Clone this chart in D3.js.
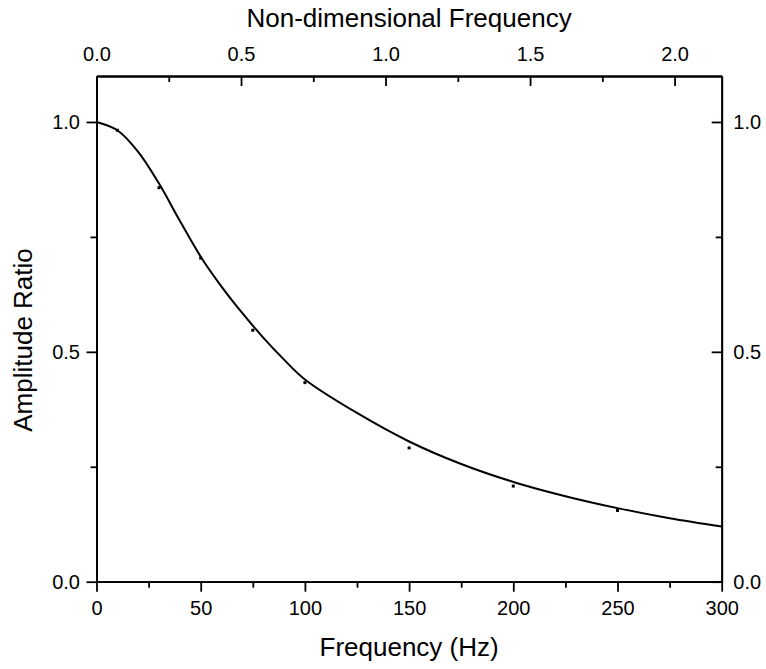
<!DOCTYPE html>
<html>
  <head>
    <title>Amplitude Ratio</title>
    <script src="https://cdn.jsdelivr.net/npm/d3@7/dist/d3.min.js"></script>
    <style>
      body { margin: 0; background: #fff; }
      text { font-family: Arial, "Liberation Sans", sans-serif; fill: #000; }
    </style>
  </head>
  <body>
    <script>
      // measured points
      var freq = [10, 30, 50, 75, 100, 150, 200, 250];
      var ratio = [0.982, 0.857, 0.704, 0.547, 0.433, 0.291, 0.208, 0.155];

      // fitted curve
      var fitFreq = [0, 10, 20, 30, 40, 50, 60, 70, 80, 90, 100, 125, 150, 175, 200, 225, 250, 275, 300];
      var fitRatio = [1.000, 0.982, 0.935, 0.866, 0.785, 0.707, 0.642, 0.584, 0.531, 0.483, 0.440, 0.367, 0.305, 0.256, 0.217, 0.186, 0.160, 0.138, 0.120];

      var xTicks = [0, 50, 100, 150, 200, 250, 300];
      var xMinor = [25, 75, 125, 175, 225, 275];
      var topTicks = [0.0, 0.5, 1.0, 1.5, 2.0];
      var topMinor = [0.25, 0.75, 1.25, 1.75];
      var topMax = 2.163;
      var yTicks = [0.0, 0.5, 1.0];
      var yMinor = [0.25, 0.75];

      var W = 766, H = 669;
      var pLeft = 96.5, pRight = 721.7, pTop = 76, pBottom = 581.7;

      var svg = d3.select("body").append("svg")
                  .attr("width", W)
                  .attr("height", H);

      var x = d3.scaleLinear().domain([0, 300]).range([pLeft, pRight]);
      var xTop = d3.scaleLinear().domain([0, topMax]).range([pLeft, pRight]);
      var y = d3.scaleLinear().domain([0, 1.1]).range([pBottom, pTop]);

      var fmt = d3.format(".1f");

      function styleAxis(g) {
        g.attr("font-size", null).attr("font-family", null);
        g.selectAll("path, line").attr("stroke", "#000").attr("stroke-width", 1.8);
        g.selectAll("text").style("font-size", "20px").attr("fill", "#000");
      }

      // bottom
      svg.append("g").attr("transform", "translate(0," + pBottom + ")")
         .call(d3.axisBottom(x).tickValues(xTicks).tickFormat(d3.format("d"))
                 .tickSize(10).tickSizeOuter(0).tickPadding(9))
         .call(styleAxis);
      svg.append("g").attr("transform", "translate(0," + pBottom + ")")
         .call(d3.axisBottom(x).tickValues(xMinor).tickFormat("").tickSize(6).tickSizeOuter(0))
         .call(styleAxis);

      // top (ticks inward)
      svg.append("g").attr("transform", "translate(0," + pTop + ")")
         .call(d3.axisTop(xTop).tickValues(topTicks).tickFormat(fmt)
                 .tickSizeInner(-10).tickSizeOuter(0).tickPadding(15))
         .call(styleAxis);
      svg.append("g").attr("transform", "translate(0," + pTop + ")")
         .call(d3.axisTop(xTop).tickValues(topMinor).tickFormat("")
                 .tickSizeInner(-6).tickSizeOuter(0))
         .call(styleAxis);

      // left
      svg.append("g").attr("transform", "translate(" + pLeft + ",0)")
         .call(d3.axisLeft(y).tickValues(yTicks).tickFormat(fmt)
                 .tickSize(10).tickSizeOuter(0).tickPadding(6.5))
         .call(styleAxis);
      svg.append("g").attr("transform", "translate(" + pLeft + ",0)")
         .call(d3.axisLeft(y).tickValues(yMinor).tickFormat("").tickSize(6).tickSizeOuter(0))
         .call(styleAxis);

      // right (ticks inward)
      svg.append("g").attr("transform", "translate(" + pRight + ",0)")
         .call(d3.axisRight(y).tickValues(yTicks).tickFormat(fmt)
                 .tickSizeInner(-10).tickSizeOuter(0).tickPadding(11.6))
         .call(styleAxis);
      svg.append("g").attr("transform", "translate(" + pRight + ",0)")
         .call(d3.axisRight(y).tickValues(yMinor).tickFormat("")
                 .tickSizeInner(-6).tickSizeOuter(0))
         .call(styleAxis);

      // fitted curve
      var fit = fitFreq.map(function(f, i){ return {f: f, v: fitRatio[i]}; });
      var line = d3.line()
                   .x(function(d){ return x(d.f); })
                   .y(function(d){ return y(d.v); })
                   .curve(d3.curveCatmullRom.alpha(0.5));
      svg.append("path").datum(fit)
         .attr("d", line)
         .attr("fill", "none")
         .attr("stroke", "#000")
         .attr("stroke-width", 2);

      // data points
      var pts = freq.map(function(f, i){ return {f: f, v: ratio[i]}; });
      svg.selectAll("rect.pt").data(pts).enter().append("rect")
         .attr("class", "pt")
         .attr("x", function(d){ return x(d.f) - 1.5; })
         .attr("y", function(d){ return y(d.v) - 1.5; })
         .attr("width", 3)
         .attr("height", 3)
         .attr("fill", "#000");

      // titles
      svg.append("text")
         .attr("x", (pLeft + pRight) / 2).attr("y", 27)
         .attr("text-anchor", "middle")
         .style("font-size", "26px")
         .text("Non-dimensional Frequency");
      svg.append("text")
         .attr("x", (pLeft + pRight) / 2).attr("y", 656)
         .attr("text-anchor", "middle")
         .style("font-size", "26px")
         .text("Frequency (Hz)");
      svg.append("text")
         .attr("transform", "translate(32," + 340 + ") rotate(-90)")
         .attr("text-anchor", "middle")
         .style("font-size", "26px")
         .text("Amplitude Ratio");
    </script>
  </body>
</html>
